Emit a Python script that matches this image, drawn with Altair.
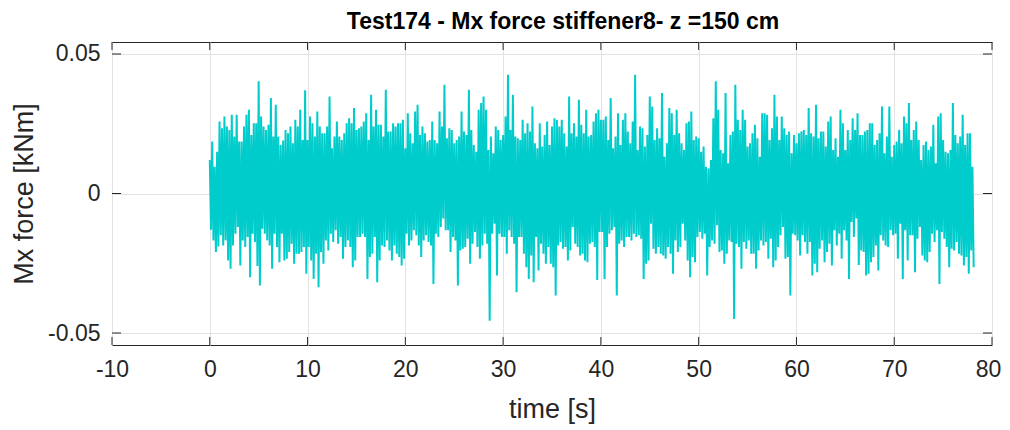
import altair as alt
import pandas as pd

# ---- data (kNm) ----
# upper / lower peak values of the signal, one pair every 0.25 s from t = 0 to 78 s
upper = [
    0.0120, 0.0186, 0.0096, 0.0150, 0.0258, 0.0234, 0.0276, 0.0240, 0.0228, 0.0282,
    0.0204, 0.0282, 0.0186, 0.0186, 0.0240, 0.0282, 0.0300, 0.0210, 0.0252, 0.0252,
    0.0402, 0.0276, 0.0240, 0.0228, 0.0246, 0.0342, 0.0204, 0.0318, 0.0204, 0.0174,
    0.0190, 0.0228, 0.0216, 0.0240, 0.0180, 0.0264, 0.0240, 0.0300, 0.0192, 0.0370,
    0.0192, 0.0276, 0.0252, 0.0204, 0.0294, 0.0240, 0.0216, 0.0216, 0.0240, 0.0348,
    0.0162, 0.0204, 0.0258, 0.0204, 0.0192, 0.0216, 0.0252, 0.0270, 0.0252, 0.0306,
    0.0228, 0.0234, 0.0240, 0.0258, 0.0288, 0.0192, 0.0354, 0.0240, 0.0300, 0.0246,
    0.0246, 0.0204, 0.0372, 0.0222, 0.0222, 0.0252, 0.0240,
    0.0252, 0.0252, 0.0264, 0.0162, 0.0288, 0.0216, 0.0180, 0.0294, 0.0318, 0.0210,
    0.0240, 0.0216, 0.0186, 0.0192, 0.0258, 0.0192, 0.0180, 0.0294, 0.0240, 0.0390,
    0.0198, 0.0234, 0.0228, 0.0180, 0.0192, 0.0204, 0.0294, 0.0222, 0.0210, 0.0372,
    0.0228, 0.0174, 0.0150, 0.0300, 0.0324, 0.0348, 0.0300, 0.0156, 0.0204, 0.0144,
    0.0240, 0.0228, 0.0192, 0.0210, 0.0276, 0.0426, 0.0228, 0.0354, 0.0204, 0.0198,
    0.0192, 0.0264, 0.0216, 0.0252, 0.0222, 0.0312, 0.0180, 0.0162, 0.0252, 0.0168,
    0.0210, 0.0258, 0.0174, 0.0240, 0.0270, 0.0264, 0.0240, 0.0264, 0.0216, 0.0168,
    0.0348, 0.0216, 0.0252, 0.0204, 0.0336, 0.0246, 0.0216, 0.0300,
    0.0204, 0.0210, 0.0258, 0.0288, 0.0300, 0.0264, 0.0264, 0.0276, 0.0192, 0.0342,
    0.0162, 0.0204, 0.0288, 0.0174, 0.0264, 0.0288, 0.0222, 0.0180, 0.0258, 0.0426,
    0.0156, 0.0240, 0.0234, 0.0168, 0.0210, 0.0348, 0.0312, 0.0192, 0.0234, 0.0198,
    0.0360, 0.0132, 0.0180, 0.0306, 0.0288, 0.0210, 0.0300, 0.0216, 0.0180, 0.0156,
    0.0252, 0.0258, 0.0294, 0.0192, 0.0204, 0.0198, 0.0150, 0.0168, 0.0096, 0.0090,
    0.0120, 0.0270, 0.0402, 0.0300, 0.0156, 0.0144, 0.0360, 0.0108, 0.0210, 0.0222,
    0.0390, 0.0264, 0.0228, 0.0300, 0.0264, 0.0168, 0.0180, 0.0216, 0.0246, 0.0198,
    0.0132, 0.0288, 0.0288, 0.0282, 0.0192, 0.0234, 0.0354, 0.0276,
    0.0192, 0.0276, 0.0234, 0.0210, 0.0222, 0.0144, 0.0210, 0.0180, 0.0216, 0.0222,
    0.0228, 0.0210, 0.0306, 0.0216, 0.0204, 0.0318, 0.0198, 0.0222, 0.0222, 0.0168,
    0.0258, 0.0276, 0.0156, 0.0198, 0.0132, 0.0300, 0.0252, 0.0156, 0.0228, 0.0192,
    0.0270, 0.0228, 0.0288, 0.0210, 0.0210, 0.0222, 0.0228, 0.0252, 0.0252, 0.0174,
    0.0192, 0.0216, 0.0312, 0.0144, 0.0204, 0.0312, 0.0132, 0.0174, 0.0186, 0.0228,
    0.0180, 0.0276, 0.0252, 0.0324, 0.0192, 0.0228, 0.0258, 0.0192, 0.0120, 0.0174,
    0.0186, 0.0156, 0.0168, 0.0246, 0.0108, 0.0276, 0.0288, 0.0192, 0.0150, 0.0144,
    0.0156, 0.0324, 0.0210, 0.0180, 0.0204, 0.0282, 0.0174, 0.0216, 0.0216, 0.0096,
]
lower = [
    -0.0130, -0.0168, -0.0210, -0.0190, -0.0150, -0.0186, -0.0168, -0.0240, -0.0270, -0.0186,
    -0.0144, -0.0120, -0.0258, -0.0168, -0.0192, -0.0156, -0.0300, -0.0144, -0.0174, -0.0260,
    -0.0330, -0.0126, -0.0144, -0.0168, -0.0186, -0.0270, -0.0144, -0.0192, -0.0246, -0.0144,
    -0.0240, -0.0234, -0.0210, -0.0180, -0.0252, -0.0216, -0.0216, -0.0210, -0.0192, -0.0288,
    -0.0192, -0.0240, -0.0306, -0.0216, -0.0336, -0.0210, -0.0252, -0.0168, -0.0204, -0.0144,
    -0.0174, -0.0132, -0.0180, -0.0156, -0.0234, -0.0192, -0.0168, -0.0192, -0.0264, -0.0240,
    -0.0156, -0.0156, -0.0144, -0.0156, -0.0306, -0.0228, -0.0216, -0.0156, -0.0318, -0.0240,
    -0.0186, -0.0192, -0.0168, -0.0204, -0.0240, -0.0186, -0.0216,
    -0.0228, -0.0258, -0.0234, -0.0144, -0.0186, -0.0168, -0.0132, -0.0150, -0.0186, -0.0228,
    -0.0168, -0.0150, -0.0174, -0.0186, -0.0324, -0.0144, -0.0156, -0.0120, -0.0090, -0.0132,
    -0.0132, -0.0210, -0.0156, -0.0168, -0.0330, -0.0204, -0.0198, -0.0192, -0.0162, -0.0252,
    -0.0180, -0.0138, -0.0192, -0.0234, -0.0186, -0.0144, -0.0180, -0.0456, -0.0144, -0.0108,
    -0.0294, -0.0144, -0.0156, -0.0156, -0.0216, -0.0132, -0.0156, -0.0180, -0.0354, -0.0156,
    -0.0156, -0.0216, -0.0264, -0.0306, -0.0222, -0.0318, -0.0156, -0.0276, -0.0180, -0.0216,
    -0.0252, -0.0192, -0.0252, -0.0264, -0.0366, -0.0186, -0.0174, -0.0198, -0.0192, -0.0240,
    -0.0204, -0.0120, -0.0180, -0.0192, -0.0222, -0.0216, -0.0240, -0.0246,
    -0.0180, -0.0174, -0.0192, -0.0310, -0.0138, -0.0138, -0.0306, -0.0192, -0.0144, -0.0132,
    -0.0120, -0.0366, -0.0180, -0.0168, -0.0192, -0.0156, -0.0156, -0.0168, -0.0144, -0.0156,
    -0.0150, -0.0162, -0.0306, -0.0252, -0.0240, -0.0108, -0.0198, -0.0216, -0.0192, -0.0216,
    -0.0222, -0.0234, -0.0192, -0.0216, -0.0288, -0.0168, -0.0210, -0.0192, -0.0108, -0.0168,
    -0.0240, -0.0300, -0.0228, -0.0246, -0.0156, -0.0138, -0.0162, -0.0144, -0.0294, -0.0192,
    -0.0168, -0.0180, -0.0114, -0.0210, -0.0204, -0.0252, -0.0216, -0.0168, -0.0174, -0.0450,
    -0.0180, -0.0192, -0.0270, -0.0174, -0.0198, -0.0168, -0.0216, -0.0216, -0.0270, -0.0204,
    -0.0168, -0.0186, -0.0174, -0.0234, -0.0162, -0.0264, -0.0240, -0.0192,
    -0.0150, -0.0120, -0.0234, -0.0228, -0.0366, -0.0144, -0.0150, -0.0168, -0.0222, -0.0150,
    -0.0174, -0.0216, -0.0174, -0.0294, -0.0252, -0.0282, -0.0198, -0.0168, -0.0246, -0.0210,
    -0.0180, -0.0258, -0.0132, -0.0186, -0.0144, -0.0234, -0.0132, -0.0168, -0.0306, -0.0102,
    -0.0156, -0.0090, -0.0256, -0.0204, -0.0210, -0.0294, -0.0288, -0.0246, -0.0228, -0.0186,
    -0.0276, -0.0150, -0.0168, -0.0186, -0.0192, -0.0132, -0.0150, -0.0144, -0.0234, -0.0108,
    -0.0306, -0.0132, -0.0240, -0.0150, -0.0150, -0.0282, -0.0162, -0.0120, -0.0222, -0.0240,
    -0.0246, -0.0210, -0.0144, -0.0174, -0.0132, -0.0324, -0.0138, -0.0162, -0.0192, -0.0264,
    -0.0198, -0.0204, -0.0174, -0.0216, -0.0222, -0.0258, -0.0228, -0.0288, -0.0204, -0.0264,
]
sample_step = 0.25  # s between successive upper peaks
x_ticks = [-10, 0, 10, 20, 30, 40, 50, 60, 70, 80]
y_ticks = [-0.05, 0, 0.05]

rows = []
for i, (u, l) in enumerate(zip(upper, lower)):
    t0 = i * sample_step
    rows.append({"t": t0, "mx": u})
    rows.append({"t": t0 + sample_step / 2, "mx": l})
df = pd.DataFrame(rows)
xt = pd.DataFrame({"v": x_ticks})
yt = pd.DataFrame({"v": y_ticks})

W, H = 880, 303
TXT = "#262626"
FONT = "Liberation Sans"
fix_minus = "replace(datum.label, '\u2212', '-')"

xscale = alt.Scale(domain=[-10, 80], nice=False, zero=False)
yscale = alt.Scale(domain=[-0.0543, 0.0543], nice=False, zero=False)

xaxis = alt.Axis(values=x_ticks, format="d", labelExpr=fix_minus, title="time [s]",
                 grid=True, gridColor="#e2e2e2", gridWidth=1, tickSize=0, domain=False,
                 labelFontSize=23, labelPadding=13, labelColor=TXT, labelFont=FONT,
                 labelOffset={"condition": {"test": "datum.value == 80", "value": -4}, "value": 0},
                 titleFontSize=27, titleFontWeight="normal", titleColor=TXT, titleFont=FONT,
                 titlePadding=15, labelFlush=False)
yaxis = alt.Axis(values=y_ticks, format=".2~f", labelExpr=fix_minus, title="Mx force [kNm]",
                 grid=True, gridColor="#e2e2e2", gridWidth=1, tickSize=0, domain=False,
                 labelFontSize=23, labelPadding=12, labelColor=TXT, labelFont=FONT,
                 titleFontSize=27, titleFontWeight="normal", titleColor=TXT, titleFont=FONT,
                 titlePadding=9, labelFlush=False)

line = alt.Chart(df).mark_line(color="#00CCCC", strokeWidth=2, clip=True).encode(
    x=alt.X("t:Q", scale=xscale, axis=xaxis),
    y=alt.Y("mx:Q", scale=yscale, axis=yaxis),
)

tk = dict(color=TXT, strokeWidth=1)
xt_bottom = alt.Chart(xt).mark_rule(**tk).encode(
    x=alt.X("v:Q", scale=xscale, axis=xaxis), y=alt.value(H), y2=alt.value(H - 8))
xt_top = alt.Chart(xt).mark_rule(**tk).encode(
    x=alt.X("v:Q", scale=xscale, axis=xaxis), y=alt.value(0), y2=alt.value(8))
yt_left = alt.Chart(yt).mark_rule(**tk).encode(
    y=alt.Y("v:Q", scale=yscale, axis=yaxis), x=alt.value(0), x2=alt.value(9))
yt_right = alt.Chart(yt).mark_rule(**tk).encode(
    y=alt.Y("v:Q", scale=yscale, axis=yaxis), x=alt.value(W), x2=alt.value(W - 9))

chart = alt.layer(line, xt_bottom, xt_top, yt_left, yt_right).properties(
    width=W, height=H,
    background="white",
    title=alt.TitleParams("Test174 - Mx force stiffener8- z =150 cm", fontSize=23,
                          fontWeight="bold", font=FONT, color="#000000",
                          anchor="middle", offset=8, dx=11),
    autosize=alt.AutoSizeParams(type="none"),
    padding={"left": 104, "top": 34, "right": 10, "bottom": 80},
).configure_view(stroke=TXT, strokeWidth=1)

chart.save("out.html", embed_options={"renderer": "svg", "actions": False})
